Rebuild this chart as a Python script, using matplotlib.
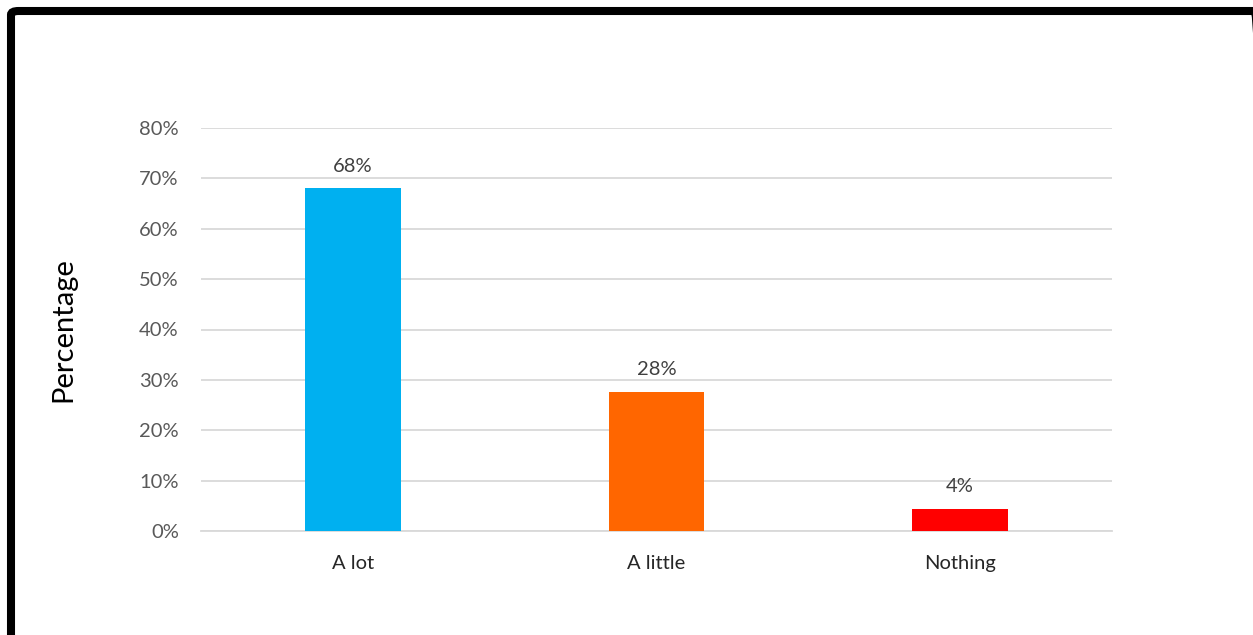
import matplotlib
matplotlib.use("Agg")
import matplotlib.pyplot as plt
from matplotlib.patches import FancyBboxPatch
from matplotlib.ticker import PercentFormatter

categories = ["A lot", "A little", "Nothing"]
values = [0.68, 0.276, 0.043]
colors = ["#00B0F0", "#FF6600", "#FF0000"]
yticks = [0, 0.1, 0.2, 0.3, 0.4, 0.5, 0.6, 0.7, 0.8]

W, H = 1253, 635
fig = plt.figure(figsize=(W / 100, H / 100), dpi=100)
plt.rcParams["font.family"] = ["Lato", "DejaVu Sans"]

ax = fig.add_axes([201 / W, 1 - 531 / H, (1112 - 201) / W, (531 - 128) / H])
x = range(len(categories))
bars = ax.bar(x, values, width=0.316, color=colors, zorder=3)
ax.set_xlim(-0.5, len(categories) - 0.5)
ax.set_ylim(0, 0.8)
ax.set_yticks(yticks)
ax.yaxis.set_major_formatter(PercentFormatter(1.0, decimals=0))
ax.set_xticks(list(x))
ax.set_xticklabels(categories)
ax.grid(axis="y", color="#D9D9D9", linewidth=1.3, zorder=0)
for s in ["top", "right", "left"]:
    ax.spines[s].set_visible(False)
ax.spines["bottom"].set_color("#D9D9D9")
ax.spines["bottom"].set_linewidth(1.3)
ax.tick_params(axis="both", length=0, labelsize=14.5, colors="#595959")
ax.tick_params(axis="y", pad=16)
ax.tick_params(axis="x", pad=17)
for lbl in ax.get_xticklabels():
    lbl.set_color("#262626")
ax.set_ylabel("Percentage", fontsize=21, color="black")
ax.yaxis.set_label_coords(-0.1515, 0.5)
ax.yaxis.label.set_va("center")

for b, v in zip(bars, values):
    ax.annotate(f"{v:.0%}", (b.get_x() + b.get_width() / 2, v),
                xytext=(0, 10), textcoords="offset points",
                ha="center", va="bottom", fontsize=14.5, color="#404040")

# Frame around the figure
frame = FancyBboxPatch((11 / W, -10 / H), (1262 - 11) / W, (H - 11 + 10) / H,
                       boxstyle="round,pad=0,rounding_size=0.006",
                       transform=fig.transFigure, fill=False,
                       edgecolor="black", linewidth=5.8, clip_on=False)
fig.patches.append(frame)

fig.savefig("out.png", dpi=100)
